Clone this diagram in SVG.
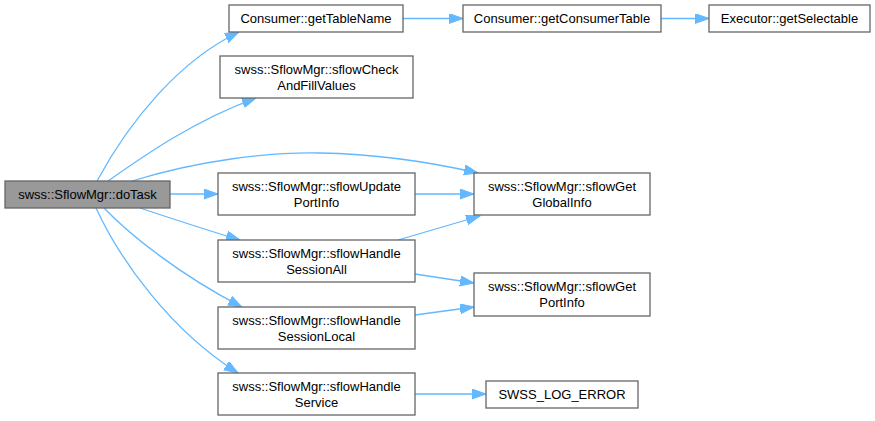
<svg xmlns="http://www.w3.org/2000/svg" width="875" height="421" viewBox="0 0 875 421">
<style>
.box{fill:#ffffff;stroke:#666666;stroke-width:1.3}
.main{fill:#999999;stroke:#666666;stroke-width:1.3}
text{font-family:"Liberation Sans",Arial,sans-serif;font-size:13px;fill:#000000;text-anchor:middle}
.e{fill:none;stroke:#63b8ff;stroke-width:1.3}
</style>
<defs>
<marker id="ah" markerUnits="userSpaceOnUse" markerWidth="15" markerHeight="11" refX="14" refY="5" orient="auto">
<path d="M0,0 L14,5 L0,10 z" fill="#63b8ff" stroke="#63b8ff" stroke-width="1"/>
</marker>
</defs>
<rect width="875" height="421" fill="#ffffff"/>
<g id="connectors">
<path class="e" marker-end="url(#ah)" d="M97,181 C130,120 180,60 239,32"/>
<path class="e" marker-end="url(#ah)" d="M108,181 C145,155 195,120 256,98"/>
<path class="e" marker-end="url(#ah)" d="M132,181 C200,160 270,152 320,153 C380,154 430,162 478,173"/>
<path class="e" marker-end="url(#ah)" d="M170,194 L218,194"/>
<path class="e" marker-end="url(#ah)" d="M140,208 C170,218 200,228 240,240"/>
<path class="e" marker-end="url(#ah)" d="M104,208 C130,235 180,275 242,307"/>
<path class="e" marker-end="url(#ah)" d="M96,208 C120,260 170,330 238,373"/>
<path class="e" marker-end="url(#ah)" d="M403,18.5 L463,18.5"/>
<path class="e" marker-end="url(#ah)" d="M661,18.5 L709,18.5"/>
<path class="e" marker-end="url(#ah)" d="M415,194 L474,194"/>
<path class="e" marker-end="url(#ah)" d="M398,240 L480,216"/>
<path class="e" marker-end="url(#ah)" d="M415,274 L474,283"/>
<path class="e" marker-end="url(#ah)" d="M415,315 L474,307"/>
<path class="e" marker-end="url(#ah)" d="M415,394 L486,394"/>
</g>
<g id="doTask">
<rect class="main" x="5" y="181" width="165" height="27"/>
<text x="87.5" y="199">swss::SflowMgr::doTask</text>
</g>
<g id="getTableName">
<rect class="box" x="229" y="5" width="174" height="27"/>
<text x="316" y="23">Consumer::getTableName</text>
</g>
<g id="sflowCheckAndFillValues">
<rect class="box" x="220" y="56" width="193" height="42"/>
<text x="316.5" y="74">swss::SflowMgr::sflowCheck</text>
<text x="316.5" y="90">AndFillValues</text>
</g>
<g id="sflowUpdatePortInfo">
<rect class="box" x="218" y="173" width="197" height="42"/>
<text x="316.5" y="191">swss::SflowMgr::sflowUpdate</text>
<text x="316.5" y="207">PortInfo</text>
</g>
<g id="sflowHandleSessionAll">
<rect class="box" x="218" y="240" width="197" height="42"/>
<text x="316.5" y="258">swss::SflowMgr::sflowHandle</text>
<text x="316.5" y="274">SessionAll</text>
</g>
<g id="sflowHandleSessionLocal">
<rect class="box" x="218" y="307" width="197" height="42"/>
<text x="316.5" y="325">swss::SflowMgr::sflowHandle</text>
<text x="316.5" y="341">SessionLocal</text>
</g>
<g id="sflowHandleService">
<rect class="box" x="218" y="373" width="197" height="42"/>
<text x="316.5" y="391">swss::SflowMgr::sflowHandle</text>
<text x="316.5" y="407">Service</text>
</g>
<g id="getConsumerTable">
<rect class="box" x="463" y="5" width="198" height="27"/>
<text x="562" y="23">Consumer::getConsumerTable</text>
</g>
<g id="getSelectable">
<rect class="box" x="709" y="5" width="161" height="27"/>
<text x="789.5" y="23">Executor::getSelectable</text>
</g>
<g id="sflowGetGlobalInfo">
<rect class="box" x="474" y="173" width="176" height="42"/>
<text x="562" y="191">swss::SflowMgr::sflowGet</text>
<text x="562" y="207">GlobalInfo</text>
</g>
<g id="sflowGetPortInfo">
<rect class="box" x="474" y="273" width="176" height="43"/>
<text x="562" y="291">swss::SflowMgr::sflowGet</text>
<text x="562" y="307">PortInfo</text>
</g>
<g id="SWSS_LOG_ERROR">
<rect class="box" x="486" y="381" width="152" height="27"/>
<text x="562" y="399">SWSS_LOG_ERROR</text>
</g>
</svg>
